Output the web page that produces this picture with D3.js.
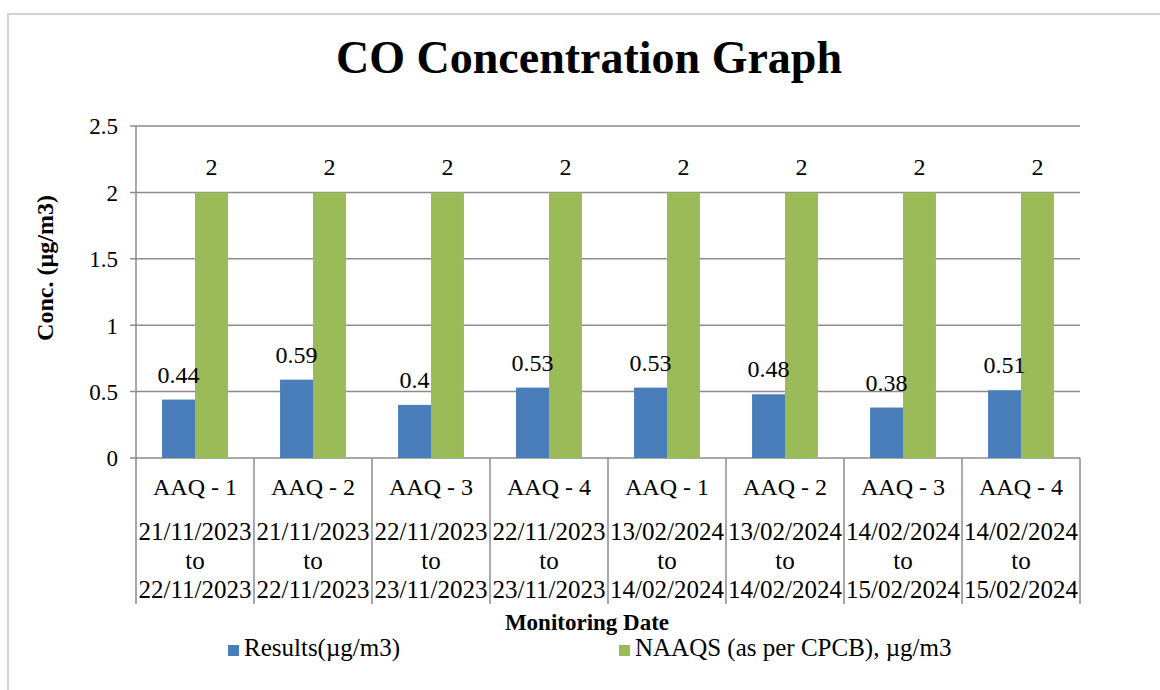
<!DOCTYPE html>
<html>
<head>
<meta charset="utf-8">
<script src="https://cdn.jsdelivr.net/npm/d3@7"></script>
<style>
  body { margin: 0; background: #fff; }
</style>
</head>
<body>
<svg id="chart"></svg>
<script>
const stations = ["AAQ - 1", "AAQ - 2", "AAQ - 3", "AAQ - 4", "AAQ - 1", "AAQ - 2", "AAQ - 3", "AAQ - 4"];
const dateFrom = ["21/11/2023", "21/11/2023", "22/11/2023", "22/11/2023", "13/02/2024", "13/02/2024", "14/02/2024", "14/02/2024"];
const dateTo = ["22/11/2023", "22/11/2023", "23/11/2023", "23/11/2023", "14/02/2024", "14/02/2024", "15/02/2024", "15/02/2024"];
const results = [0.44, 0.59, 0.4, 0.53, 0.53, 0.48, 0.38, 0.51];
const naaqs = [2, 2, 2, 2, 2, 2, 2, 2];
const seriesNames = ["Results(\u00b5g/m3)", "NAAQS (as per CPCB), \u00b5g/m3"];
const yTicks = [0, 0.5, 1, 1.5, 2, 2.5];

const width = 1160, height = 690;
const margin = { top: 126, right: 80, bottom: 232, left: 136 };
const colors = ["#4a7ebb", "#9bbb59"];
const gridColor = "#8c8c8c";
const serif = "'Times New Roman', 'Liberation Serif', Tinos, 'DejaVu Serif', serif";

const svg = d3.select("#chart").attr("width", width).attr("height", height)
              .style("font-family", serif);

// cadre extérieur
svg.append("rect")
   .attr("x", 8).attr("y", 14)
   .attr("width", width + 20).attr("height", height + 20)
   .attr("fill", "none").attr("stroke", "#d4d4d4").attr("stroke-width", 2);

const x0 = d3.scaleBand()
             .domain(d3.range(stations.length))
             .range([margin.left, width - margin.right]);

const x1 = d3.scaleBand()
             .domain([0, 1])
             .range([0, x0.bandwidth()])
             .paddingInner(0)
             .paddingOuter(0.79);

const y = d3.scaleLinear()
            .domain([0, 2.5])
            .range([height - margin.bottom, margin.top]);

// titre
svg.append("text")
   .attr("x", 589).attr("y", 73)
   .attr("text-anchor", "middle")
   .attr("font-size", 46).attr("font-weight", "bold")
   .text("CO Concentration Graph");

// grille
svg.append("g")
   .selectAll("line")
   .data(yTicks)
   .enter()
   .append("line")
   .attr("x1", margin.left - 6).attr("x2", width - margin.right)
   .attr("y1", d => y(d)).attr("y2", d => y(d))
   .attr("stroke", gridColor).attr("stroke-width", 1.5);

// axe y
const yAxis = d3.axisLeft(y).tickValues(yTicks).tickSize(0).tickPadding(18).tickFormat(d3.format("~g"));
const gy = svg.append("g")
   .attr("transform", `translate(${margin.left},0)`)
   .call(yAxis);
gy.select(".domain").remove();
gy.attr("font-family", null);
gy.selectAll("text")
  .attr("fill", "#000")
  .attr("font-size", 23)
  .attr("dy", "0.34em");

// ligne de l'axe y et séparateurs de catégories
const seps = d3.range(stations.length + 1).map(i => i === stations.length ? x0.range()[1] : x0(i));
svg.append("g")
   .selectAll("line")
   .data(seps)
   .enter()
   .append("line")
   .attr("x1", d => d).attr("x2", d => d)
   .attr("y1", (d, i) => i === 0 ? margin.top : y(0))
   .attr("y2", 604)
   .attr("stroke", gridColor).attr("stroke-width", 1.5);

// barres
const groups = svg.append("g")
   .selectAll("g")
   .data(stations.map((s, i) => [results[i], naaqs[i]]))
   .enter()
   .append("g")
   .attr("transform", (d, i) => `translate(${x0(i)},0)`);

groups.selectAll("rect")
   .data(d => d)
   .enter()
   .append("rect")
   .attr("x", (d, j) => x1(j))
   .attr("y", d => y(d))
   .attr("width", x1.bandwidth())
   .attr("height", d => y(0) - y(d))
   .attr("fill", (d, j) => colors[j]);

groups.selectAll("text")
   .data(d => d)
   .enter()
   .append("text")
   .attr("x", (d, j) => x1(j) + x1.bandwidth() / 2)
   .attr("y", d => y(d) - 17)
   .attr("text-anchor", "middle")
   .attr("font-size", 24)
   .text(d => d);

// étiquettes des catégories
const cats = svg.append("g")
   .selectAll("g")
   .data(stations)
   .enter()
   .append("g")
   .attr("transform", (d, i) => `translate(${x0(i) + x0.bandwidth() / 2},0)`);

cats.append("text").attr("y", 495).attr("text-anchor", "middle").attr("font-size", 24).text(d => d);
cats.append("text").attr("y", 540).attr("text-anchor", "middle").attr("font-size", 25).text((d, i) => dateFrom[i]);
cats.append("text").attr("y", 569).attr("text-anchor", "middle").attr("font-size", 25).text("to");
cats.append("text").attr("y", 598).attr("text-anchor", "middle").attr("font-size", 25).text((d, i) => dateTo[i]);

// titres des axes
svg.append("text")
   .attr("x", 587).attr("y", 630)
   .attr("text-anchor", "middle")
   .attr("font-size", 23).attr("font-weight", "bold")
   .text("Monitoring Date");

svg.append("text")
   .attr("transform", "translate(53,268) rotate(-90)")
   .attr("text-anchor", "middle")
   .attr("font-size", 24).attr("font-weight", "bold")
   .text("Conc. (\u00b5g/m3)");

// légende
const legendX = [228, 619];
const legend = svg.append("g")
   .selectAll("g")
   .data(seriesNames)
   .enter()
   .append("g")
   .attr("transform", (d, i) => `translate(${legendX[i]},656)`);

legend.append("rect")
   .attr("x", 0).attr("y", -11)
   .attr("width", 11).attr("height", 11)
   .attr("fill", (d, i) => colors[i]);

legend.append("text")
   .attr("x", 16).attr("y", 0)
   .attr("font-size", 25)
   .text(d => d);
</script>
</body>
</html>
